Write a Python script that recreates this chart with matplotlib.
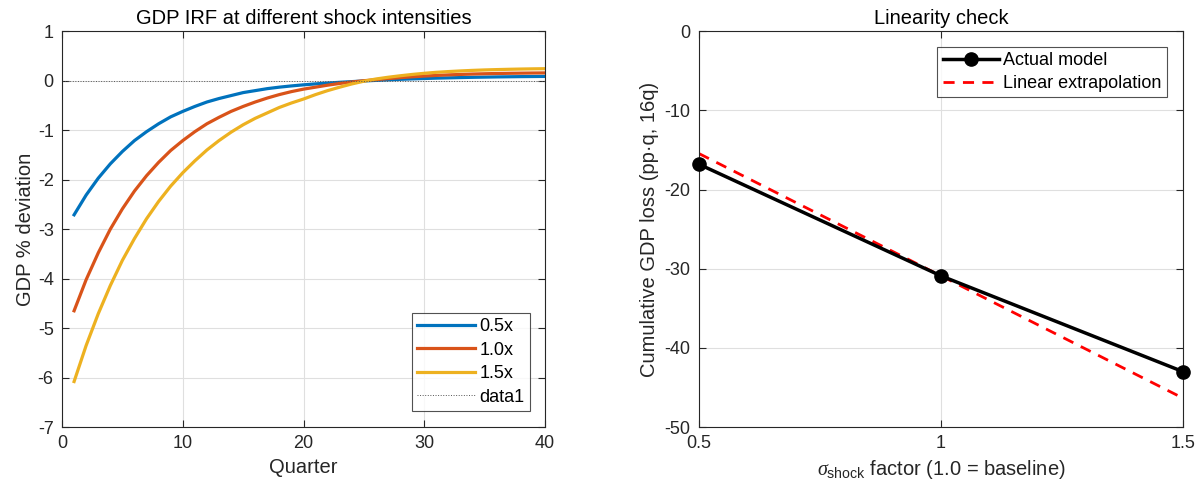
import matplotlib
matplotlib.use("Agg")
import matplotlib.pyplot as plt
import numpy as np

plt.rcParams['font.family'] = ['Liberation Sans', 'DejaVu Sans']
plt.rcParams['mathtext.fontset'] = 'custom'
plt.rcParams['mathtext.rm'] = 'Liberation Sans'
plt.rcParams['mathtext.it'] = 'Liberation Serif:italic'
plt.rcParams['axes.unicode_minus'] = False

# GDP impulse responses, quarters 1..40
quarters = np.arange(1, 41)
irf_05 = [-2.71, -2.31, -1.97, -1.68, -1.43, -1.21, -1.03, -0.87, -0.73, -0.62,
          -0.52, -0.43, -0.36, -0.30, -0.24, -0.20, -0.16, -0.13, -0.105, -0.083,
          -0.064, -0.047, -0.032, -0.018, -0.005, 0.007, 0.018, 0.028, 0.037, 0.045,
          0.052, 0.058, 0.064, 0.069, 0.073, 0.077, 0.080, 0.083, 0.085, 0.087]
irf_10 = [-4.65, -4.02, -3.48, -3.00, -2.59, -2.23, -1.92, -1.65, -1.41, -1.21,
          -1.03, -0.87, -0.74, -0.62, -0.52, -0.43, -0.35, -0.28, -0.22, -0.17,
          -0.13, -0.09, -0.055, -0.025, 0.0, 0.022, 0.043, 0.062, 0.079, 0.094,
          0.107, 0.118, 0.127, 0.135, 0.141, 0.146, 0.150, 0.153, 0.156, 0.158]
irf_15 = [-6.08, -5.35, -4.71, -4.14, -3.63, -3.19, -2.79, -2.44, -2.13, -1.86,
          -1.62, -1.40, -1.21, -1.04, -0.89, -0.76, -0.65, -0.54, -0.45, -0.37,
          -0.28, -0.20, -0.13, -0.065, -0.01, 0.035, 0.07, 0.10, 0.127, 0.15,
          0.17, 0.185, 0.198, 0.209, 0.218, 0.225, 0.231, 0.236, 0.240, 0.243]
irf_labels = ["0.5x", "1.0x", "1.5x"]

# cumulative 16q GDP loss by shock size
sigma_factor = [0.5, 1.0, 1.5]
cum_loss = [-16.8, -30.9, -43.0]
cum_loss_linear = [-15.45, -30.9, -46.35]

mlColors = ["#0072BD", "#D95319", "#EDB120"]
axColor = "#262626"
tickFs = 13
labelFs = 14.5

fig = plt.figure(figsize=(12.02, 4.96), dpi=100)

def styleAxes(ax):
    ax.grid(True, color="#dfdfdf", linewidth=0.8)
    ax.set_axisbelow(True)
    for s in ax.spines.values():
        s.set_color(axColor)
        s.set_linewidth(0.8)
    ax.tick_params(direction="in", top=True, right=True, colors=axColor,
                   labelcolor=axColor, labelsize=tickFs, length=5, width=0.8, pad=6)

def styleLegend(leg):
    leg.get_frame().set_edgecolor(axColor)
    leg.get_frame().set_linewidth(0.8)

# left: IRFs
irfAxe = fig.add_axes([0.0516, 0.139, 0.4018, 0.798])
for vals, lab, c in zip([irf_05, irf_10, irf_15], irf_labels, mlColors):
    irfAxe.plot(quarters, vals, color=c, linewidth=2.3, label=lab)
irfAxe.plot([0, 40], [0, 0], linestyle=":", color="#555555", linewidth=0.7, label="data1")
irfAxe.set_xlim(0, 40)
irfAxe.set_ylim(-7, 1)
irfAxe.set_xticks([0, 10, 20, 30, 40])
irfAxe.set_yticks(np.arange(-7, 2, 1))
styleAxes(irfAxe)
irfAxe.set_xlabel("Quarter", fontsize=labelFs, color=axColor, labelpad=4)
irfAxe.set_ylabel("GDP % deviation", fontsize=labelFs, color=axColor, labelpad=2)
irfAxe.set_title("GDP IRF at different shock intensities", fontsize=labelFs, pad=5)
leg = irfAxe.legend(loc="lower right", fontsize=tickFs, frameon=True, fancybox=False,
                    handlelength=3.2, handletextpad=0.25, borderpad=0.3, labelspacing=0.36,
                    borderaxespad=0, bbox_to_anchor=(0.969, 0.04))
styleLegend(leg)

# right: linearity check
linAxe = fig.add_axes([0.5815, 0.139, 0.4027, 0.798])
linAxe.plot(sigma_factor, cum_loss, "k-o", linewidth=2.5, markersize=9.5, clip_on=False,
            zorder=4, label="Actual model")
linAxe.plot(sigma_factor, cum_loss_linear, "r--", linewidth=2, dashes=(4, 3), label="Linear extrapolation")
linAxe.set_xlim(0.5, 1.5)
linAxe.set_ylim(-50, 0)
linAxe.set_xticks([0.5, 1, 1.5])
linAxe.set_xticklabels(["0.5", "1", "1.5"])
linAxe.set_yticks([-50, -40, -30, -20, -10, 0])
styleAxes(linAxe)
linAxe.set_xlabel(r"$\mathit{\sigma}_{\mathrm{shock}}$ factor (1.0 = baseline)", fontsize=labelFs, color=axColor, labelpad=4)
linAxe.set_ylabel("Cumulative GDP loss (pp\u00b7q, 16q)", fontsize=labelFs, color=axColor, labelpad=4)
linAxe.set_title("Linearity check", fontsize=labelFs, pad=5)
leg2 = linAxe.legend(loc="upper right", fontsize=tickFs, frameon=True, fancybox=False,
                     handlelength=3.1, handletextpad=0.25, borderpad=0.3, labelspacing=0.3,
                     borderaxespad=0, bbox_to_anchor=(0.967, 0.96))
styleLegend(leg2)

fig.savefig("out.png", dpi=100)
